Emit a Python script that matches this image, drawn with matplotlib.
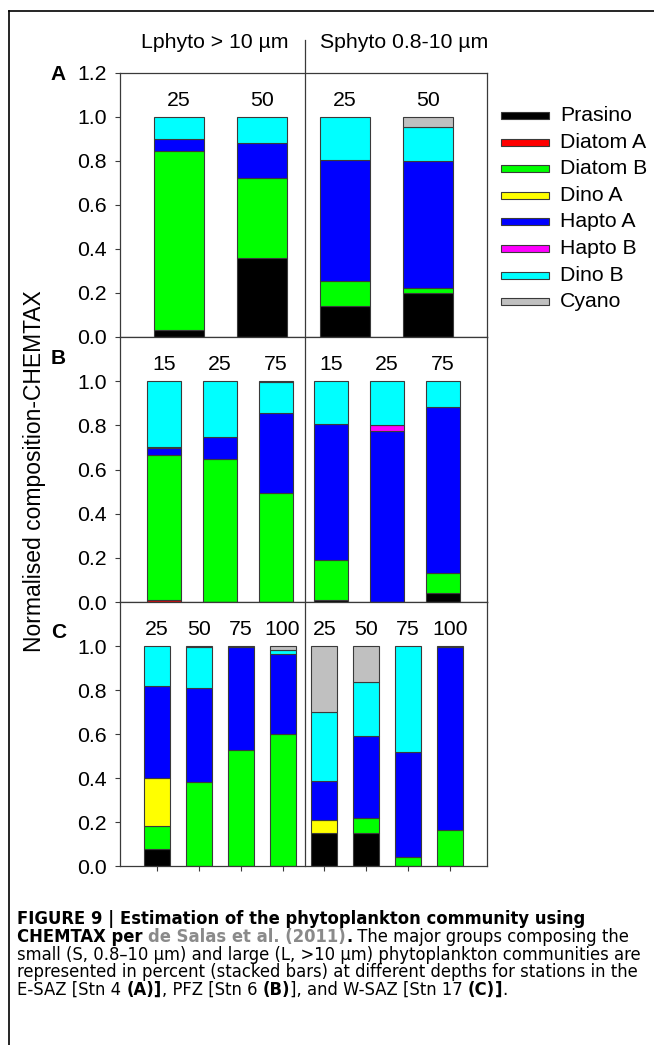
import numpy as np
import matplotlib
matplotlib.use('Agg')
import matplotlib.pyplot as plt
from matplotlib.patches import Rectangle
from matplotlib.lines import Line2D
from matplotlib import font_manager

plt.rcParams['font.family'] = ['Liberation Sans', 'DejaVu Sans']

groups = ['Prasino', 'Diatom A', 'Diatom B', 'Dino A', 'Hapto A', 'Hapto B', 'Dino B', 'Cyano']
colors = ['#000000', '#ff0000', '#00ff00', '#ffff00', '#0000ff', '#ff00ff', '#00ffff', '#c0c0c0']

# A: E-SAZ Stn 4 -> L 25, L 50 | S 25, S 50
a_depths = ['25', '50', '25', '50']
a_prasino = [0.030, 0.358, 0.142, 0.199]
a_diatom_a = [0, 0, 0, 0]
a_diatom_b = [0.815, 0.366, 0.111, 0.024]
a_dino_a = [0, 0, 0, 0]
a_hapto_a = [0.055, 0.159, 0.553, 0.577]
a_hapto_b = [0, 0, 0, 0]
a_dino_b = [0.100, 0.117, 0.194, 0.155]
a_cyano = [0, 0, 0, 0.045]

# B: PFZ Stn 6 -> L 15, 25, 75 | S 15, 25, 75
b_depths = ['15', '25', '75', '15', '25', '75']
b_prasino = [0, 0, 0, 0.010, 0, 0.041]
b_diatom_a = [0.008, 0, 0, 0, 0, 0]
b_diatom_b = [0.658, 0.647, 0.492, 0.180, 0, 0.090]
b_dino_a = [0, 0, 0, 0, 0, 0]
b_hapto_a = [0.033, 0.099, 0.365, 0.617, 0.776, 0.754]
b_hapto_b = [0.005, 0, 0, 0, 0.026, 0]
b_dino_b = [0.296, 0.254, 0.138, 0.193, 0.198, 0.115]
b_cyano = [0, 0, 0.005, 0, 0, 0]

# C: W-SAZ Stn 17 -> L 25, 50, 75, 100 | S 25, 50, 75, 100
c_depths = ['25', '50', '75', '100', '25', '50', '75', '100']
c_prasino = [0.076, 0, 0, 0, 0.148, 0.148, 0, 0]
c_diatom_a = [0, 0, 0, 0, 0, 0, 0, 0]
c_diatom_b = [0.107, 0.380, 0.529, 0.602, 0, 0.069, 0.041, 0.162]
c_dino_a = [0.217, 0, 0, 0, 0.060, 0, 0, 0]
c_hapto_a = [0.417, 0.429, 0.466, 0.363, 0.180, 0.372, 0.477, 0.835]
c_hapto_b = [0, 0, 0, 0, 0, 0, 0, 0]
c_dino_b = [0.183, 0.186, 0.005, 0.018, 0.310, 0.249, 0.482, 0]
c_cyano = [0, 0.005, 0, 0.017, 0.302, 0.162, 0, 0.003]

W, H = 654, 1045
fig = plt.figure(figsize=(W / 100, H / 100), dpi=100)


def fx(px):
    return px / W


def fy(py):
    return 1 - py / H


edge = '#3a3a3a'
fs = 15.3


def draw_panel(ax, depths, series, xlim, width, yticks, xticks=False):
    x = np.arange(1, len(depths) + 1)
    bottom = np.zeros(len(depths))
    for vals, col in zip(series, colors):
        vals = np.asarray(vals, float)
        m = vals > 0
        ax.bar(x[m], vals[m], width, bottom=bottom[m], color=col,
               edgecolor=edge, linewidth=0.8, zorder=2)
        bottom += vals
    for xi, d in zip(x, depths):
        ax.text(xi, 1.075, d, ha='center', va='center', fontsize=fs)
    ax.set_xlim(*xlim)
    ax.set_ylim(0, 1.2)
    ax.set_yticks(yticks)
    ax.set_yticklabels(['%.1f' % v for v in yticks], fontsize=fs)
    if xticks:
        ax.set_xticks(x)
        ax.set_xticklabels([])
    else:
        ax.set_xticks([])
    ax.tick_params(direction='out', length=3.5, width=0.8, color=edge, pad=6)
    for s in ax.spines.values():
        s.set_color(edge)
        s.set_linewidth(0.9)


ax_a = fig.add_axes([fx(120), fy(337), (487 - 120) / W, 264 / H])
ax_b = fig.add_axes([fx(120), fy(602), (487 - 120) / W, 265 / H])
ax_c = fig.add_axes([fx(120), fy(866), (487 - 120) / W, 264 / H])

draw_panel(ax_a, a_depths,
           [a_prasino, a_diatom_a, a_diatom_b, a_dino_a, a_hapto_a, a_hapto_b, a_dino_b, a_cyano],
           (0.29, 4.71), 0.6, [0, 0.2, 0.4, 0.6, 0.8, 1.0, 1.2])
draw_panel(ax_b, b_depths,
           [b_prasino, b_diatom_a, b_diatom_b, b_dino_a, b_hapto_a, b_hapto_b, b_dino_b, b_cyano],
           (0.21, 6.79), 0.61, [0, 0.2, 0.4, 0.6, 0.8, 1.0])
draw_panel(ax_c, c_depths,
           [c_prasino, c_diatom_a, c_diatom_b, c_dino_a, c_hapto_a, c_hapto_b, c_dino_b, c_cyano],
           (0.12, 8.88), 0.62, [0, 0.2, 0.4, 0.6, 0.8, 1.0], xticks=True)

# divider between L and S fractions
fig.add_artist(Line2D([fx(305), fx(305)], [fy(40), fy(866)], color=edge, lw=0.9))

# headers
fig.text(fx(215), fy(43), 'Lphyto > 10 µm', ha='center', va='center', fontsize=fs)
fig.text(fx(404), fy(43), 'Sphyto 0.8-10 µm', ha='center', va='center', fontsize=fs)

# panel letters and y label
for lab, yy in [('A', 74), ('B', 358), ('C', 633)]:
    fig.text(fx(66), fy(yy), lab, ha='right', va='center', fontsize=15, fontweight='bold')
fig.text(fx(35), fy(471), 'Normalised composition-CHEMTAX', rotation=90,
         ha='center', va='center', fontsize=16.5)

# legend
for i, (g, col) in enumerate(zip(groups, colors)):
    yc = 115.5 + i * 26.6
    fig.add_artist(Rectangle((fx(501), fy(yc + 3.5)), 48 / W, 7 / H, facecolor=col,
                             edgecolor=edge, lw=0.8, transform=fig.transFigure))
    fig.text(fx(560), fy(yc), g, ha='left', va='center', fontsize=fs)

# frame
fig.add_artist(Line2D([fx(9), 1], [fy(11), fy(11)], color='k', lw=1.2))
fig.add_artist(Line2D([fx(9), fx(9)], [fy(11), 0], color='k', lw=1.2))

# caption
names = {f.name for f in font_manager.fontManager.ttflist}
cap_font = 'Liberation Sans Narrow' if 'Liberation Sans Narrow' in names else 'DejaVu Sans'
cap_stretch = 'normal' if cap_font == 'Liberation Sans Narrow' else 'condensed'
gray = '#8a8a8a'
lines = [
    [('FIGURE 9 | Estimation of the phytoplankton community using', 'bold', 'k')],
    [('CHEMTAX per ', 'bold', 'k'), ('de Salas et al. (2011)', 'bold', gray), ('.', 'bold', 'k'),
     (' The major groups composing the', 'normal', 'k')],
    [('small (S, 0.8–10 µm) and large (L, >10 µm) phytoplankton communities are', 'normal', 'k')],
    [('represented in percent (stacked bars) at different depths for stations in the', 'normal', 'k')],
    [('E-SAZ [Stn 4 ', 'normal', 'k'), ('(A)]', 'bold', 'k'), (', PFZ [Stn 6 ', 'normal', 'k'),
     ('(B)', 'bold', 'k'), ('], and W-SAZ [Stn 17 ', 'normal', 'k'), ('(C)', 'bold', 'k'),
     (']', 'bold', 'k'), ('.', 'normal', 'k')],
]
renderer = fig.canvas.get_renderer()


def text_width(s, weight, size):
    t1 = fig.text(0, 0, s + '|', fontsize=size, fontweight=weight, family=cap_font, fontstretch=cap_stretch)
    t2 = fig.text(0, 0, '|', fontsize=size, fontweight=weight, family=cap_font, fontstretch=cap_stretch)
    w = t1.get_window_extent(renderer).width - t2.get_window_extent(renderer).width
    t1.remove()
    t2.remove()
    return w


cap_fs = 10 * 626 / text_width(lines[2][0][0], 'normal', 10)
for k, pieces in enumerate(lines):
    x = 17
    yb = 924 + k * 17.8
    for s, weight, col in pieces:
        fig.text(fx(x), fy(yb), s, ha='left', va='baseline', fontsize=cap_fs,
                 fontweight=weight, color=col, family=cap_font, fontstretch=cap_stretch)
        x += text_width(s, weight, cap_fs)

fig.savefig('out.png', dpi=100)
